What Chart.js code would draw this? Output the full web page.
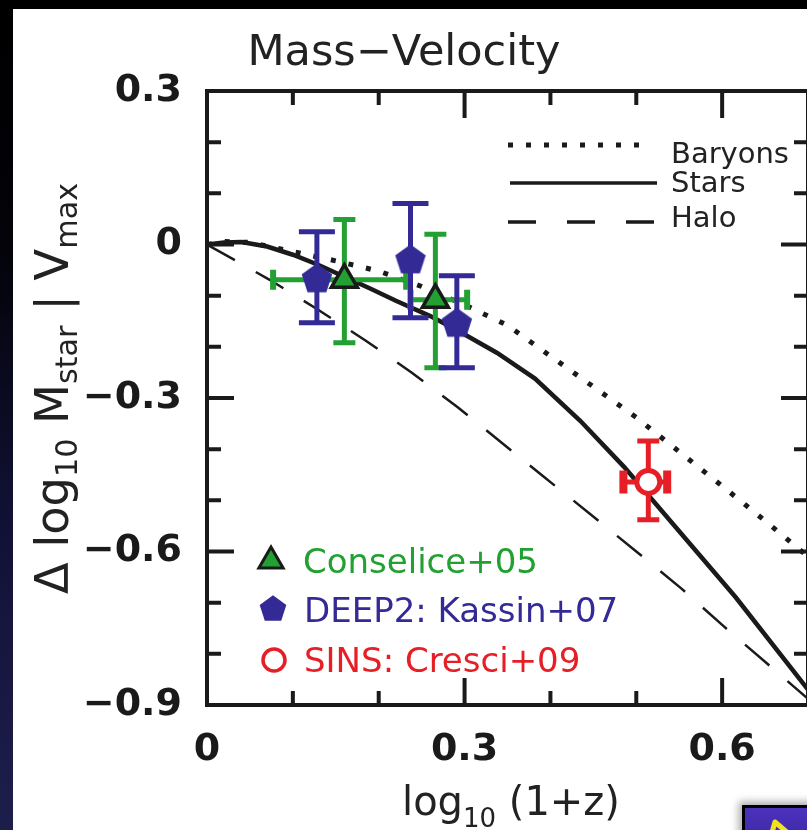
<!DOCTYPE html>
<html><head><meta charset="utf-8">
<script src="https://cdn.jsdelivr.net/npm/chart.js@4.4.1/dist/chart.umd.min.js"></script>
<style>
html,body{margin:0;padding:0;width:807px;height:830px;overflow:hidden;
 background:linear-gradient(to bottom,#000 0%,#030309 30%,#121238 65%,#1e1e4c 100%);}
#panel{position:absolute;left:13px;top:9px;right:0;bottom:0;background:#fff;}
#wrap{position:absolute;left:0;top:0;width:830px;height:830px;}
#c{width:830px;height:830px;display:block;}
#badge{position:absolute;left:742px;top:805px;width:80px;height:40px;border:3px solid #000;
 background:linear-gradient(#4c31bc,#3a28a2);box-shadow:-3px -3px 8px rgba(0,0,0,0.35);}
</style></head>
<body>
<div id="panel"></div>
<div id="wrap"><canvas id="c" width="830" height="830"></canvas></div>
<div id="badge"><svg width="60" height="30" style="position:absolute;left:20px;top:6px"><path d="M6 22 L10 8 L24 20" fill="none" stroke="#f2e21a" stroke-width="5" stroke-linejoin="round"/></svg></div>
<script>
// ---------- data ----------
const xTickValues = [0, 0.3, 0.6];
const xTickLabels = ['0', '0.3', '0.6'];
const yTickValues = [0.3, 0, -0.3, -0.6, -0.9];
const yTickLabels = ['0.3', '0', '\u22120.3', '\u22120.6', '\u22120.9'];

const baryonsX = [0, 0.02, 0.05, 0.1, 0.15, 0.2, 0.25, 0.3, 0.35, 0.4, 0.45, 0.5, 0.55, 0.6, 0.65, 0.7];
const baryonsY = [0, 0.006, 0.004, -0.014, -0.032, -0.052, -0.082, -0.118, -0.158, -0.218, -0.278, -0.338, -0.405, -0.472, -0.54, -0.61];

const starsX = [0, 0.02, 0.04, 0.07, 0.1, 0.13, 0.16, 0.19, 0.22, 0.26, 0.294, 0.338, 0.382, 0.435, 0.486, 0.538, 0.616, 0.7];
const starsY = [0, 0.004, 0.005, -0.004, -0.02, -0.04, -0.063, -0.086, -0.11, -0.14, -0.17, -0.212, -0.262, -0.345, -0.435, -0.537, -0.69, -0.87];

const haloX = [0, 0.073, 0.129, 0.185, 0.239, 0.292, 0.393, 0.448, 0.5, 0.553, 0.601, 0.653, 0.7];
const haloY = [0, -0.069, -0.127, -0.188, -0.251, -0.318, -0.455, -0.529, -0.6, -0.673, -0.745, -0.82, -0.888];

const conseliceX   = [0.160, 0.266];
const conseliceY   = [-0.069, -0.108];
const conseliceYLo = [-0.192, -0.241];
const conseliceYHi = [0.049, 0.020];
const conseliceXLo = [0.077, 0.237];
const conseliceXHi = [0.232, 0.303];

const kassinX   = [0.128, 0.237, 0.291];
const kassinY   = [-0.065, -0.028, -0.152];
const kassinYLo = [-0.153, -0.143, -0.241];
const kassinYHi = [0.025, 0.080, -0.061];

const cresciX   = [0.514];
const cresciY   = [-0.464];
const cresciYLo = [-0.538];
const cresciYHi = [-0.384];
const cresciXLo = [0.485];
const cresciXHi = [0.536];

const seriesNames = ['Baryons', 'Stars', 'Halo'];
const pointNames = ['Conselice+05', 'DEEP2: Kassin+07', 'SINS: Cresci+09'];

// ---------- style ----------
const GREEN = '#22a032', BLUE = '#332a96', RED = '#e61e25', INK = '#1a1a1a';
const FONT = '"DejaVu Sans", sans-serif';

function pts(xs, ys) { return xs.map((x, i) => ({x: x, y: ys[i]})); }

function pentagon(R, color) {
  const s = Math.ceil(2 * R + 4);
  const c = document.createElement('canvas'); c.width = s; c.height = s;
  const g = c.getContext('2d');
  g.fillStyle = color; g.beginPath();
  for (let i = 0; i < 5; i++) {
    const a = -Math.PI / 2 + i * 2 * Math.PI / 5;
    const px = s / 2 + R * Math.cos(a), py = s / 2 + R * Math.sin(a) + 0.0955 * R;
    i ? g.lineTo(px, py) : g.moveTo(px, py);
  }
  g.closePath(); g.fill();
  return c;
}
const pentaImg = pentagon(16, BLUE);
const pentaLegend = pentagon(14, BLUE);

function labelFor(vals, labels, v) {
  const i = vals.findIndex(m => Math.abs(m - v) < 1e-6);
  return i >= 0 ? labels[i] : '';
}

function drawErrors(chart) {
  const ctx = chart.ctx, xs = chart.scales.x, ys = chart.scales.y;
  const X = v => xs.getPixelForValue(v), Y = v => ys.getPixelForValue(v);
  ctx.save();
  ctx.lineCap = 'butt';
  function vbar(x, lo, hi, color, lw, capHalf) {
    ctx.strokeStyle = color; ctx.lineWidth = lw;
    ctx.beginPath(); ctx.moveTo(X(x), Y(lo)); ctx.lineTo(X(x), Y(hi)); ctx.stroke();
    ctx.beginPath();
    ctx.moveTo(X(x) - capHalf, Y(lo)); ctx.lineTo(X(x) + capHalf, Y(lo));
    ctx.moveTo(X(x) - capHalf, Y(hi)); ctx.lineTo(X(x) + capHalf, Y(hi));
    ctx.stroke();
  }
  function hbar(y, lo, hi, color, lw, capHalf, capLw) {
    ctx.strokeStyle = color; ctx.lineWidth = lw;
    ctx.beginPath(); ctx.moveTo(X(lo), Y(y)); ctx.lineTo(X(hi), Y(y)); ctx.stroke();
    ctx.lineWidth = capLw;
    ctx.beginPath();
    ctx.moveTo(X(lo), Y(y) - capHalf); ctx.lineTo(X(lo), Y(y) + capHalf);
    ctx.moveTo(X(hi), Y(y) - capHalf); ctx.lineTo(X(hi), Y(y) + capHalf);
    ctx.stroke();
  }
  conseliceX.forEach((x, i) => {
    hbar(conseliceY[i], conseliceXLo[i], conseliceXHi[i], GREEN, 5, 10, 6);
    vbar(x, conseliceYLo[i], conseliceYHi[i], GREEN, 5, 11);
  });
  kassinX.forEach((x, i) => vbar(x, kassinYLo[i], kassinYHi[i], BLUE, 5, 18));
  cresciX.forEach((x, i) => {
    hbar(cresciY[i], cresciXLo[i], cresciXHi[i], RED, 5, 11.5, 8);
    vbar(x, cresciYLo[i], cresciYHi[i], RED, 5, 11);
  });
  ctx.restore();
}

function subText(ctx, parts, x, y) {
  let cx = x;
  parts.forEach(p => {
    ctx.font = p[1] + 'px ' + FONT;
    ctx.fillText(p[0], cx, y + p[2]);
    cx += ctx.measureText(p[0]).width;
  });
  return cx - x;
}
function subWidth(ctx, parts) {
  let w = 0;
  parts.forEach(p => { ctx.font = p[1] + 'px ' + FONT; w += ctx.measureText(p[0]).width; });
  return w;
}

const decor = {
  id: 'decor',
  beforeDatasetDraw(chart, args) {
    if (chart.data.datasets[args.index].label === pointNames[2]) drawErrors(chart);
  },
  afterDraw(chart) {
    const ctx = chart.ctx, a = chart.chartArea;
    const xs = chart.scales.x, ys = chart.scales.y;
    ctx.save();
    ctx.strokeStyle = INK; ctx.lineWidth = 4; ctx.lineCap = 'butt';
    ctx.strokeRect(a.left, a.top, a.right - a.left, a.bottom - a.top);
    ctx.beginPath();
    xs.ticks.forEach(t => {
      const v = t.value; if (v <= 1e-6 || v >= 0.7 - 1e-6) return;
      const major = Math.abs(Math.round(v * 10) % 3) === 0;
      const L = major ? 27 : 14, px = xs.getPixelForValue(v);
      ctx.moveTo(px, a.bottom); ctx.lineTo(px, a.bottom - L);
      ctx.moveTo(px, a.top); ctx.lineTo(px, a.top + L);
    });
    ys.ticks.forEach(t => {
      const v = t.value; if (v >= 0.3 - 1e-6 || v <= -0.9 + 1e-6) return;
      const major = Math.abs(Math.round(v * 10) % 3) === 0;
      const L = major ? 27 : 14, py = ys.getPixelForValue(v);
      ctx.moveTo(a.left, py); ctx.lineTo(a.left + L, py);
      ctx.moveTo(a.right, py); ctx.lineTo(a.right - L, py);
    });
    ctx.stroke();

    ctx.fillStyle = '#222';
    ctx.textAlign = 'center'; ctx.textBaseline = 'alphabetic';
    ctx.font = '43px ' + FONT;
    ctx.fillText('Mass\u2212Velocity', 404, 65);

    ctx.textAlign = 'left';
    const xParts = [['log', 40, 0], ['10', 26, 12], [' (1+z)', 40, 0]];
    const xw = subWidth(ctx, xParts);
    subText(ctx, xParts, 511 - xw / 2, 815);

    ctx.save();
    ctx.translate(68, 594);
    ctx.rotate(-Math.PI / 2);
    const yParts = [['\u0394 log', 46, 0], ['10', 30, 9], [' M', 46, 0], ['star', 30, 9], [' | V', 46, 0], ['max', 30, 9]];
    const yw = subWidth(ctx, yParts);
    ctx.scale(411 / yw, 1);
    subText(ctx, yParts, 0, 0);
    ctx.restore();

    ctx.strokeStyle = INK;
    ctx.lineWidth = 5; ctx.setLineDash([5, 13]);
    ctx.beginPath(); ctx.moveTo(508, 145); ctx.lineTo(650, 145); ctx.stroke();
    ctx.lineWidth = 3.5; ctx.setLineDash([]);
    ctx.beginPath(); ctx.moveTo(510, 183); ctx.lineTo(657, 183); ctx.stroke();
    ctx.setLineDash([28, 31]);
    ctx.beginPath(); ctx.moveTo(508, 222); ctx.lineTo(657, 222); ctx.stroke();
    ctx.setLineDash([]);
    ctx.fillStyle = '#222'; ctx.font = '29px ' + FONT;
    ctx.fillText(seriesNames[0], 671, 163);
    ctx.fillText(seriesNames[1], 671, 192);
    ctx.fillText(seriesNames[2], 671, 227);

    ctx.font = '34px ' + FONT;
    ctx.beginPath();
    const tr = 14, tx = 271, ty = 561;
    for (let i = 0; i < 3; i++) {
      const ang = -Math.PI / 2 + i * 2 * Math.PI / 3;
      const px = tx + tr * Math.cos(ang), py = ty + tr * Math.sin(ang);
      i ? ctx.lineTo(px, py) : ctx.moveTo(px, py);
    }
    ctx.closePath(); ctx.fillStyle = GREEN; ctx.fill();
    ctx.lineWidth = 3; ctx.strokeStyle = INK; ctx.lineJoin = 'miter'; ctx.stroke();
    ctx.fillStyle = GREEN; ctx.fillText(pointNames[0], 303, 573);
    ctx.drawImage(pentaLegend, 273 - pentaLegend.width / 2, 608 - pentaLegend.height / 2);
    ctx.fillStyle = BLUE; ctx.fillText(pointNames[1], 304, 622);
    ctx.beginPath(); ctx.arc(274, 660, 11, 0, 2 * Math.PI);
    ctx.lineWidth = 3.5; ctx.strokeStyle = RED; ctx.stroke();
    ctx.fillStyle = RED; ctx.fillText(pointNames[2], 304, 672);
    ctx.restore();
  }
};

Chart.defaults.font.family = FONT;

new Chart(document.getElementById('c'), {
  type: 'scatter',
  data: {
    datasets: [
      { label: seriesNames[0], data: pts(baryonsX, baryonsY), showLine: true, pointRadius: 0,
        borderColor: INK, borderWidth: 5, borderDash: [5, 13], borderCapStyle: 'butt', order: 10 },
      { label: seriesNames[1], data: pts(starsX, starsY), showLine: true, pointRadius: 0,
        borderColor: INK, borderWidth: 4.5, order: 9 },
      { label: seriesNames[2], data: pts(haloX, haloY), showLine: true, pointRadius: 0,
        borderColor: INK, borderWidth: 2.5, borderDash: [32, 24], borderCapStyle: 'butt', order: 8 },
      { label: pointNames[0], data: pts(conseliceX, conseliceY), pointStyle: 'triangle', pointRadius: 15,
        backgroundColor: GREEN, borderColor: INK, borderWidth: 3.5, order: 2 },
      { label: pointNames[1], data: pts(kassinX, kassinY), pointStyle: pentaImg, order: 1 },
      { label: pointNames[2], data: pts(cresciX, cresciY), pointStyle: 'circle', pointRadius: 11.5,
        backgroundColor: '#fff', borderColor: RED, borderWidth: 5, order: 3 }
    ]
  },
  options: {
    responsive: false, animation: false, devicePixelRatio: 1,
    layout: { padding: { left: 0, top: 91, right: 14, bottom: 0 } },
    plugins: { legend: { display: false }, tooltip: { enabled: false }, title: { display: false } },
    scales: {
      x: {
        type: 'linear', min: 0, max: 0.7,
        grid: { display: false, drawTicks: false }, border: { display: false },
        ticks: { stepSize: 0.1, autoSkip: false, maxRotation: 0, padding: 22, color: INK,
          font: { size: 38, weight: 'bold' },
          callback: v => labelFor(xTickValues, xTickLabels, v) },
        afterFit: s => { s.height = 125; }
      },
      y: {
        type: 'linear', min: -0.9, max: 0.3,
        grid: { display: false, drawTicks: false }, border: { display: false },
        ticks: { stepSize: 0.1, autoSkip: false, padding: 25, color: INK,
          font: { size: 38, weight: 'bold' },
          callback: v => labelFor(yTickValues, yTickLabels, v) },
        afterFit: s => { s.width = 207; }
      }
    }
  },
  plugins: [decor]
});
</script>
</body></html>
